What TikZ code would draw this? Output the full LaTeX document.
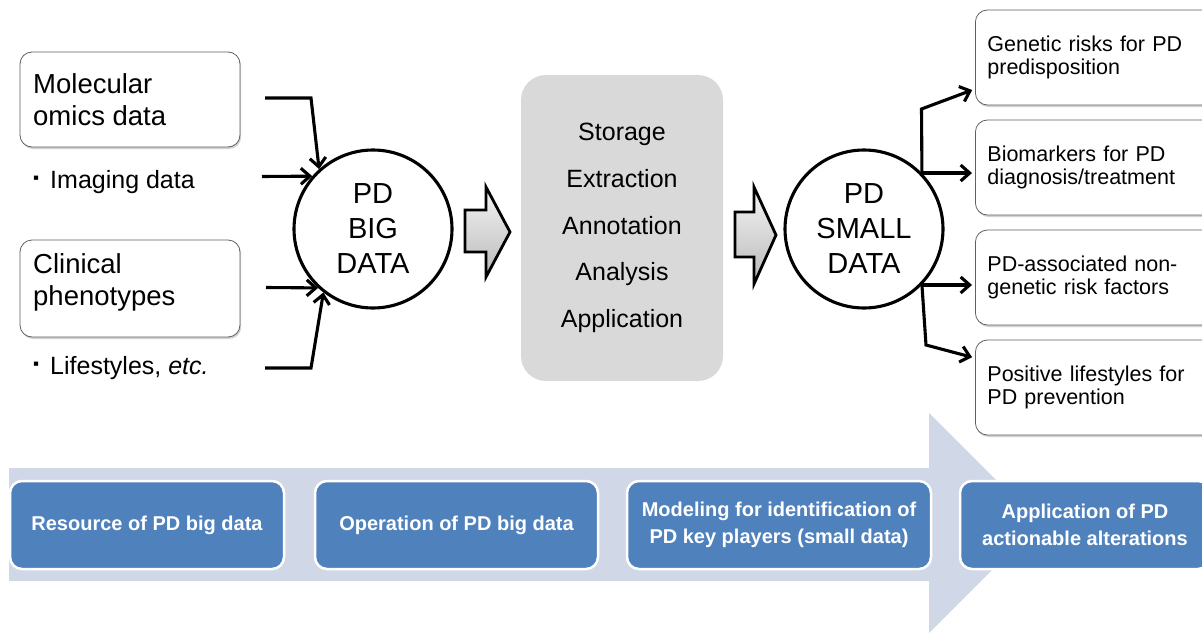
\documentclass[tikz,border=0pt]{standalone}
\usepackage{fontspec}
\setmainfont{Liberation Sans}
\usetikzlibrary{arrows.meta,shadows}
\definecolor{bandblue}{HTML}{D0D8E8}
\definecolor{boxblue}{HTML}{4F81BD}
\definecolor{panelgray}{HTML}{D9D9D9}
\newcommand\fsz[2]{\fontsize{#1}{#2}\selectfont}
\begin{document}
\begin{tikzpicture}[x=1pt,y=-1pt,
  whitebox/.style={draw=gray!75!black, line width=0.8pt, fill=white, rounded corners=12pt,
    drop shadow={shadow xshift=1.2pt, shadow yshift=-2pt, opacity=0.35}},
  rbox/.style={whitebox, anchor=west, minimum height=95pt, text width=216pt, align=left,
    inner xsep=12pt, font=\fsz{21.5}{23.5}},
  bluebox/.style={fill=boxblue, draw=white, line width=2.5pt, rounded corners=12pt, text=white,
    font=\fsz{20}{27}\bfseries, align=center, minimum height=88pt},
  bigcirc/.style={circle, draw, line width=3.1pt, fill=white, minimum size=158pt, inner sep=0pt,
    align=center, font=\fsz{29}{35}},
  link/.style={line width=3.1pt, line join=miter, -{Straight Barb[length=9pt,width=16pt,line width=3.1pt]}},
  fatarrow/.style={draw, line width=2.8pt, top color=gray!8, bottom color=gray!55, line join=miter},
  lefttext/.style={anchor=north west, inner sep=0pt, align=left, font=\fsz{27.5}{32}},
  bullettext/.style={anchor=base west, inner sep=0pt, font=\fsz{25}{30}}
]
\useasboundingbox (0,0) rectangle (1202,634);
\clip (0,0) rectangle (1202,634);
\fill[white] (0,0) rectangle (1202,634);

% background process arrow
\fill[bandblue] (9,468) -- (929,468) -- (929,413) -- (1039,523) -- (929,633) -- (929,581) -- (9,581) -- cycle;

% stage boxes
\node[bluebox, minimum width=274pt] (b1) at (147,525) {Resource of PD big data};
\node[bluebox, minimum width=283pt] (b2) at (456.5,525) {Operation of PD big data};
\node[bluebox, minimum width=304pt] (b3) at (779,525) {Modeling for identification of\\PD key players (small data)};
\node[bluebox, minimum width=250pt] (b4) at (1085,525) {Application of PD\\actionable alterations};

% left inputs
\node[whitebox, minimum width=220pt, minimum height=95pt] (mol) at (130,99.5) {};
\node[lefttext] (moltxt) at (33,73) {Molecular\\omics data};
\node[whitebox, minimum width=220pt, minimum height=97pt] (clin) at (130,288.5) {};
\node[lefttext] (clintxt) at (33,253) {Clinical\\phenotypes};
\node[bullettext] (img) at (33,188) {\raisebox{4.5pt}{\fsz{17}{17}▪}\hspace{11pt}Imaging data};
\node[bullettext] (life) at (33,374) {\raisebox{4.5pt}{\fsz{17}{17}▪}\hspace{11pt}Lifestyles, \textit{etc.}};

% circles
\node[bigcirc] (big) at (373,229) {PD\\BIG\\DATA};
\node[bigcirc] (small) at (864,229) {PD\\SMALL\\DATA};

% operations panel
\node[fill=panelgray, rounded corners=25pt, minimum width=202pt, minimum height=306pt,
  align=center, font=\fsz{25}{46.75}] (ops) at (622,228)
  {Storage\\Extraction\\Annotation\\Analysis\\Application};

% fat arrows
\draw[fatarrow] (465,210) -- (486,210) -- (486,187) -- (510,232) -- (486,277) -- (486,252) -- (465,252) -- cycle;
\draw[fatarrow] (735,212) -- (754,212) -- (754,187) -- (776,235) -- (754,284) -- (754,257) -- (735,257) -- cycle;

% input connectors
\coordinate (i1) at (265,98);
\coordinate (i2) at (262,176.5);
\coordinate (i3) at (266,287.5);
\coordinate (i4) at (265,368);
\draw[link] (i1) -- (311,98) -- (big.132);
\draw[link] (i2) -- (big.139);
\draw[link] (i3) -- (big.227);
\draw[link] (i4) -- (311,368) -- (big.232);

% right outputs
\node[rbox] (r1) at (975,57.5) {Genetic risks for PD\\predisposition};
\node[rbox] (r2) at (975,167.5) {Biomarkers for PD\\diagnosis/treatment};
\node[rbox] (r3) at (975,277.5) {PD-associated non-\\genetic risk factors};
\node[rbox] (r4) at (975,387.5) {Positive lifestyles for\\PD prevention};

\draw[link, shorten >=3pt] (small.44) -- (921.5,109) -- (r1.west |- 0,89);
\draw[link, shorten >=3pt] (small.44) -- (r2.west |- small.44);
\draw[link, shorten >=3pt] (small.316) -- (r3.west |- small.316);
\draw[link, shorten >=3pt] (small.316) -- (926,345) -- (r4.west |- 0,358);
\end{tikzpicture}
\end{document}
